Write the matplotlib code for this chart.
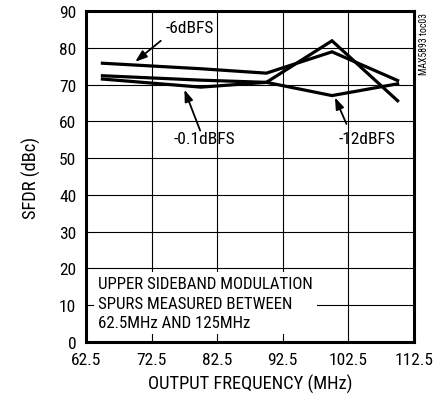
import matplotlib.pyplot as plt
import numpy as np

# -----------------------------
# Data
# -----------------------------
freq_mhz = [65, 80, 90, 100, 110]
sfdr_0p1dbfs = [71.5, 69.3, 70.6, 67.0, 70.2]
sfdr_6dbfs = [75.8, 74.3, 73.1, 78.9, 71.1]
sfdr_12dbfs = [72.4, 71.2, 70.6, 81.9, 65.6]

x_ticks = [62.5, 72.5, 82.5, 92.5, 102.5, 112.5]
x_tick_labels = ["62.5", "72.5", "82.5", "92.5", "102.5", "112.5"]
y_ticks = [0, 10, 20, 30, 40, 50, 60, 70, 80, 90]

# narrow sans, close to the datasheet look
plt.rcParams["font.family"] = ["Roboto Condensed", "DejaVu Sans"]

fig = plt.figure(figsize=(4.45, 4.02), dpi=100)
ax = fig.add_axes([86 / 445, 1 - 343 / 402, 328 / 445, 331 / 402])

for vals in (sfdr_0p1dbfs, sfdr_6dbfs, sfdr_12dbfs):
    ax.plot(freq_mhz, vals, color="black", linewidth=2.3, solid_joinstyle="miter", zorder=4)

ax.set_xlim(62.5, 112.5)
ax.set_ylim(0, 90)
ax.set_xticks(x_ticks)
ax.set_xticklabels(x_tick_labels)
ax.set_yticks(y_ticks)
ax.grid(True, color="black", linewidth=0.8)
ax.tick_params(length=0, labelsize=12.5, pad=7)
for s in ax.spines.values():
    s.set_linewidth(2.2)

ax.set_xlabel("OUTPUT FREQUENCY (MHz)", fontsize=13.3, labelpad=5)
ax.set_ylabel("SFDR (dBc)", fontsize=13.3, labelpad=13)

# curve labels with arrows
arrow = dict(arrowstyle="-|>,head_length=0.7,head_width=0.25", color="black", lw=1.3, shrinkA=0, shrinkB=0)
ax.annotate("", xy=(70.0, 76.2), xytext=(73.9, 81.9), arrowprops=arrow, zorder=5)
ax.text(78.4, 85.4, "-6dBFS", fontsize=12.5, ha="center", va="center")
ax.annotate("", xy=(77.5, 68.6), xytext=(79.9, 57.5), arrowprops=arrow, zorder=5)
ax.text(80.6, 55.2, "-0.1dBFS", fontsize=12.5, ha="center", va="center")
ax.annotate("", xy=(100.45, 66.5), xytext=(102.2, 59.3), arrowprops=arrow, zorder=5)
ax.text(105.3, 55.2, "-12dBFS", fontsize=12.5, ha="center", va="center")

# note box covering the grid
ax.text(64.3, 10.6, "UPPER SIDEBAND MODULATION\nSPURS MEASURED BETWEEN\n62.5MHz AND 125MHz",
        fontsize=12.2, ha="left", va="center", linespacing=1.35, zorder=3,
        bbox=dict(facecolor="white", edgecolor="none", pad=3))

fig.text(424 / 445, 1 - 44 / 402, "MAX5893 toc03", rotation=90, fontsize=7,
         ha="center", va="center")

fig.savefig("out.png", dpi=100)
